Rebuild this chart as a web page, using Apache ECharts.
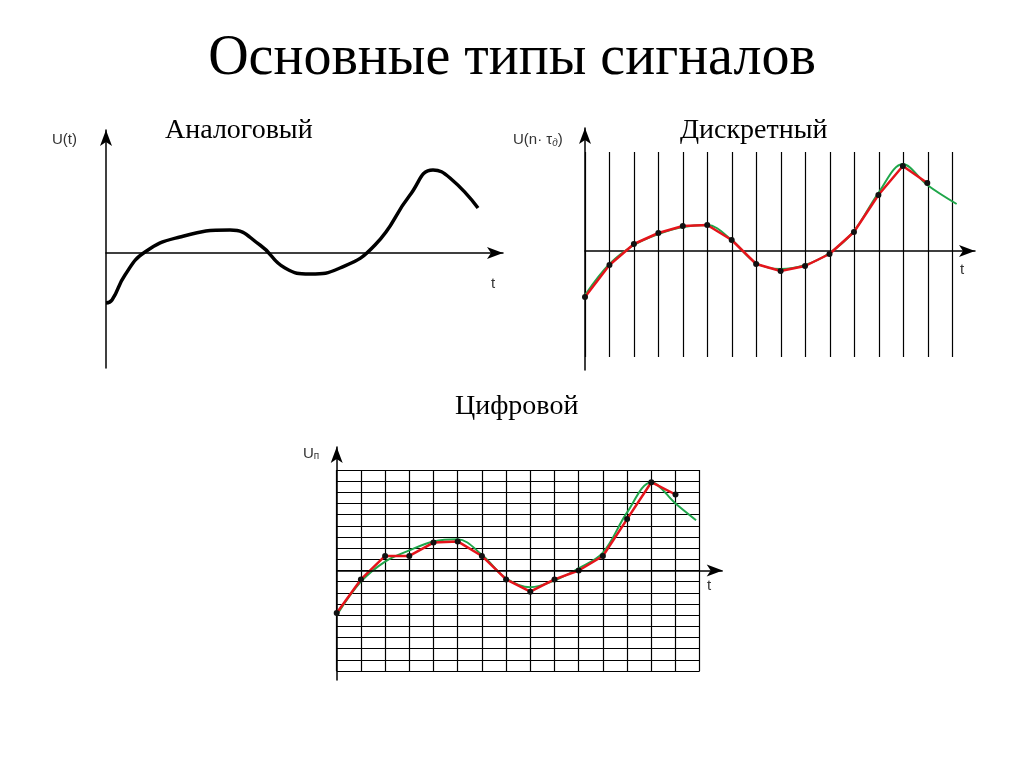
<!DOCTYPE html>
<html>
<head>
<meta charset="utf-8">
<script src="https://cdn.jsdelivr.net/npm/echarts@6/dist/echarts.min.js"></script>
<style>
  html, body { margin: 0; padding: 0; background: #fff; }
  #chart_content { width: 1024px; height: 767px; }
</style>
</head>
<body>
<div id="chart_content"></div>
<script>
// analog signal: [t, u]
const analogData = [[0, -50], [6, -47], [19, -22], [39, 1], [74, 16], [124, 23], [154, 8], [179, -15],
    [204, -21], [234, -15], [269, 8], [304, 58], [327, 83], [344, 75], [372, 45]];
// discrete samples (index, value)
const discreteSamples = [-46, -14, 7, 18, 25, 26, 11, -13, -20, -15, -3, 19, 56, 85, 68];
const discreteAnalog = [[0, -44], [1, -13], [2, 6], [3, 17], [4, 24], [5, 26], [6, 11], [7, -12],
    [8, -18], [9, -14], [10, -2], [11, 20], [12, 58], [13, 87], [14, 66], [15.2, 47]];
// digital (quantized) samples, in quantization levels
const digitalSamples = [5.2, 8.2, 10.3, 10.3, 11.5, 11.6, 10.3, 8.2, 7.1, 8.2, 9, 10.3, 13.6, 16.9, 15.8];
const digitalAnalog = [[0, 5.0], [1, 8.0], [2, 9.8], [3, 10.8], [4, 11.6], [5, 11.8], [6, 10.4], [7, 8.3],
    [8, 7.5], [9, 8.1], [10, 9.2], [11, 10.6], [12, 14.2], [13, 16.9], [14, 15.0], [14.85, 13.5]];
const digitalZero = 9;

const RED = '#e5141b', GREEN = '#1fa64a';
const arrowAxis = {
    show: true,
    symbol: ['none', 'arrow'],
    symbolSize: [9, 16],
    lineStyle: { color: '#000', width: 1.5 }
};
const noLabels = { axisTick: { show: false }, axisLabel: { show: false } };
const blackSplit = { show: true, lineStyle: { color: '#000', width: 1.2 } };

let chart = echarts.init(document.getElementById('chart_content'));
chart.setOption({
    animation: false,
    title: {
        text: 'Основные типы сигналов', left: 'center', top: 26,
        textStyle: { fontFamily: 'Liberation Serif', fontWeight: 'normal', fontSize: 56, color: '#000' }
    },
    grid: [
        { left: 106, top: 130, width: 397, height: 238 },   // analog
        { left: 585, top: 128, width: 390, height: 242 },   // discrete axes
        { left: 585, top: 152, width: 367.5, height: 205 }, // discrete lines
        { left: 336.7, top: 447, width: 386, height: 233 }, // digital axes
        { left: 336.7, top: 470, width: 363, height: 201 }  // digital mesh
    ],
    xAxis: [
        Object.assign({ gridIndex: 0, type: 'value', min: 0, max: 397, axisLine: arrowAxis, splitLine: { show: false } }, noLabels),
        Object.assign({ gridIndex: 1, type: 'value', min: 0, max: 390 / 24.45, axisLine: arrowAxis, splitLine: { show: false } }, noLabels),
        Object.assign({ gridIndex: 2, type: 'value', min: 0, max: 15, interval: 1, axisLine: { show: false }, splitLine: blackSplit }, noLabels),
        Object.assign({ gridIndex: 3, type: 'value', min: 0, max: 386 / 24.2, axisLine: { show: false }, splitLine: { show: false } }, noLabels),
        Object.assign({ gridIndex: 4, type: 'value', min: 0, max: 15, interval: 1, axisLine: { show: false }, splitLine: blackSplit }, noLabels)
    ],
    yAxis: [
        Object.assign({ gridIndex: 0, type: 'value', min: -115, max: 123, axisLine: arrowAxis, splitLine: { show: false } }, noLabels),
        Object.assign({ gridIndex: 1, type: 'value', min: -119, max: 123, axisLine: arrowAxis, splitLine: { show: false } }, noLabels),
        Object.assign({ gridIndex: 2, type: 'value', min: 0, max: 1, axisLine: { show: false }, splitLine: { show: false } }, noLabels),
        Object.assign({ gridIndex: 3, type: 'value', min: -0.8, max: 20.05, axisLine: arrowAxis, splitLine: { show: false } }, noLabels),
        Object.assign({ gridIndex: 4, type: 'value', min: 0, max: 18, interval: 1, axisLine: { show: false }, splitLine: blackSplit }, noLabels)
    ],
    series: [
        {
            type: 'line', xAxisIndex: 0, yAxisIndex: 0, data: analogData, smooth: 0.5,
            showSymbol: false, lineStyle: { color: '#000', width: 3.5 }
        },
        {
            type: 'line', xAxisIndex: 1, yAxisIndex: 1, data: discreteAnalog, smooth: 0.35,
            showSymbol: false, lineStyle: { color: GREEN, width: 2 }
        },
        {
            type: 'line', xAxisIndex: 1, yAxisIndex: 1, data: discreteSamples.map((v, i) => [i, v]),
            symbol: 'circle', symbolSize: 6, itemStyle: { color: '#111' },
            lineStyle: { color: RED, width: 2.5 }
        },
        {
            type: 'line', xAxisIndex: 3, yAxisIndex: 3, data: digitalAnalog, smooth: 0.35,
            showSymbol: false, lineStyle: { color: GREEN, width: 2 },
            markLine: {
                silent: true, symbol: ['none', 'arrow'], symbolSize: [9, 16], label: { show: false },
                lineStyle: { color: '#000', width: 1.5, type: 'solid' },
                data: [{ yAxis: digitalZero }]
            }
        },
        {
            type: 'line', xAxisIndex: 3, yAxisIndex: 3, data: digitalSamples.map((v, i) => [i, v]),
            symbol: 'circle', symbolSize: 6, itemStyle: { color: '#111' },
            lineStyle: { color: RED, width: 2.5 }
        }
    ],
    graphic: [
        { type: 'text', left: 165, top: 117, style: { text: 'Аналоговый', font: '28px "Liberation Serif"', fill: '#000' } },
        { type: 'text', left: 680, top: 117, style: { text: 'Дискретный', font: '28px "Liberation Serif"', fill: '#000' } },
        { type: 'text', left: 455, top: 393, style: { text: 'Цифровой', font: '28px "Liberation Serif"', fill: '#000' } },
        { type: 'text', left: 52, top: 132, style: { text: 'U(t)', font: '15px "Liberation Sans"', fill: '#333' } },
        { type: 'text', left: 491, top: 276, style: { text: 't', font: '15px "Liberation Sans"', fill: '#333' } },
        {
            type: 'text', left: 513, top: 132,
            style: {
                text: '{a|U(n· τ}{b|д}{a|)}', fill: '#333',
                rich: { a: { font: '15px "Liberation Sans"', fill: '#333' }, b: { font: 'italic 10px "Liberation Sans"', fill: '#333', padding: [8, 0, 0, 0] } }
            }
        },
        { type: 'text', left: 960, top: 262, style: { text: 't', font: '15px "Liberation Sans"', fill: '#333' } },
        {
            type: 'text', left: 303, top: 446,
            style: {
                text: '{a|U}{b|п}', fill: '#333',
                rich: { a: { font: '15px "Liberation Sans"', fill: '#333' }, b: { font: '10px "Liberation Sans"', fill: '#333', padding: [6, 0, 0, 0] } }
            }
        },
        { type: 'text', left: 707, top: 578, style: { text: 't', font: '15px "Liberation Sans"', fill: '#333' } }
    ]
});
</script>
</body>
</html>
